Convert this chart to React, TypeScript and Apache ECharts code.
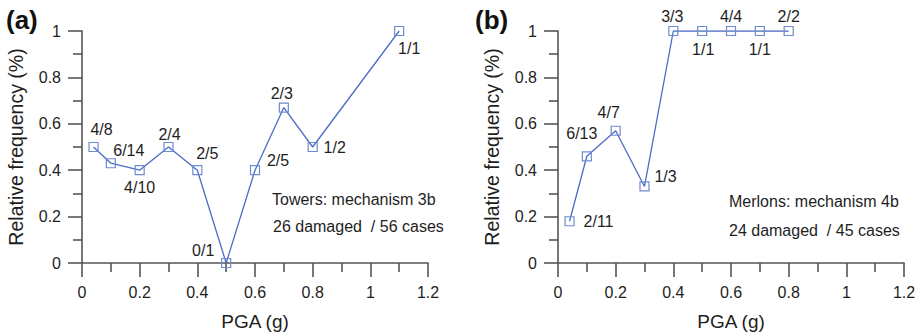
import React, { useEffect, useRef } from "react";
import * as echarts from "echarts";

const pgaA = [0.04, 0.1, 0.2, 0.3, 0.4, 0.5, 0.6, 0.7, 0.8, 1.1];
const freqA = [0.5, 0.43, 0.4, 0.5, 0.4, 0, 0.4, 0.67, 0.5, 1];
const labelsA = ["4/8", "6/14", "4/10", "2/4", "2/5", "0/1", "2/5", "2/3", "1/2", "1/1"];

const pgaB = [0.04, 0.1, 0.2, 0.3, 0.4, 0.5, 0.6, 0.7, 0.8];
const freqB = [0.18, 0.46, 0.57, 0.33, 1, 1, 1, 1, 1];
const labelsB = ["2/11", "6/13", "4/7", "1/3", "3/3", "1/1", "4/4", "1/1", "2/2"];

const xTicks = [0, 0.2, 0.4, 0.6, 0.8, 1, 1.2];
const yTicks = [0, 0.2, 0.4, 0.6, 0.8, 1];

const panelTitles = ["(a)", "(b)"];
const notesA = ["Towers: mechanism 3b", "26 damaged  / 56 cases"];
const notesB = ["Merlons: mechanism 4b", "24 damaged  / 45 cases"];

const offA = [[8, -18], [18, -13], [0, 17], [1, -13], [10, -17], [-23, -13], [23, -10], [-2, -14], [22, 0], [10, 17]];
const offB = [[29, 0], [-5, -23], [-7, -18], [21, -10], [-1, -15], [1, 18], [0, -15], [0, 18], [0, -15]];

const FONT = "'Liberation Sans', Arial, sans-serif";
const TEXT = "#1e1e1e";
const AXIS = "#555555";
const LINE = "#4a6cc4";
const MARK = "#6d8bd3";

function fmt(v: number) {
  return String(+v.toFixed(1));
}

const lineSty = { color: AXIS, width: 1.6 };

function xAxis(gridIndex: number) {
  return {
    type: "value",
    gridIndex,
    min: xTicks[0],
    max: xTicks[xTicks.length - 1],
    interval: 0.2,
    name: "PGA (g)",
    nameLocation: "middle",
    nameGap: 49,
    nameTextStyle: { fontFamily: FONT, fontSize: 19, color: TEXT },
    axisLine: { show: true, onZero: false, lineStyle: lineSty },
    axisTick: { show: true, inside: false, length: 14, lineStyle: lineSty },
    minorTick: { show: true, splitNumber: 2, length: 9, lineStyle: lineSty },
    axisLabel: { show: true, fontFamily: FONT, fontSize: 16, color: TEXT, margin: 21, formatter: fmt },
    splitLine: { show: false },
  };
}

function yAxis(gridIndex: number) {
  return {
    type: "value",
    gridIndex,
    min: yTicks[0],
    max: yTicks[yTicks.length - 1],
    interval: 0.2,
    name: "Relative frequency (%)",
    nameLocation: "middle",
    nameGap: 56,
    nameTextStyle: { fontFamily: FONT, fontSize: 19.5, color: TEXT },
    axisLine: { show: true, onZero: false, lineStyle: lineSty },
    axisTick: { show: true, inside: false, length: 14, lineStyle: lineSty },
    minorTick: { show: true, splitNumber: 2, length: 9, lineStyle: lineSty },
    axisLabel: { show: true, fontFamily: FONT, fontSize: 16, color: TEXT, margin: 21, formatter: fmt },
    splitLine: { show: false },
  };
}

function series(idx: number, xs: number[], ys: number[], labels: string[], offs: number[][]) {
  return {
    type: "line",
    xAxisIndex: idx,
    yAxisIndex: idx,
    symbol: "rect",
    symbolSize: 9,
    lineStyle: { color: LINE, width: 1.3 },
    itemStyle: { color: "rgba(255,255,255,0)", borderColor: MARK, borderWidth: 1.2 },
    z: 3,
    data: xs.map((x, i) => ({
      value: [x, ys[i]],
      label: {
        show: true,
        formatter: labels[i],
        position: "inside",
        offset: offs[i],
        fontFamily: FONT,
        fontSize: 16,
        color: TEXT,
        align: "center",
        verticalAlign: "middle",
      },
    })),
  };
}

export default function App() {
  const ref = useRef<HTMLDivElement>(null);
  useEffect(() => {
    if (!ref.current) return;
    const chart = echarts.init(ref.current, undefined, { renderer: "svg" });
    const noteStyle = { fontFamily: FONT, fontSize: 16, fill: TEXT };
    chart.setOption({
      animation: false,
      backgroundColor: "#ffffff",
      grid: [
        { left: 82, right: 493, top: 31, bottom: 73, containLabel: false },
        { left: 558, right: 17, top: 31, bottom: 73, containLabel: false },
      ],
      xAxis: [xAxis(0), xAxis(1)],
      yAxis: [yAxis(0), yAxis(1)],
      series: [series(0, pgaA, freqA, labelsA, offA), series(1, pgaB, freqB, labelsB, offB)],
      graphic: [
        { type: "text", left: 6, top: 7, style: { text: panelTitles[0], fontFamily: FONT, fontSize: 26, fontWeight: "bold", fill: "#111" } },
        { type: "text", left: 475, top: 7, style: { text: panelTitles[1], fontFamily: FONT, fontSize: 26, fontWeight: "bold", fill: "#111" } },
        { type: "text", left: 272, top: 191, style: { text: notesA[0], ...noteStyle } },
        { type: "text", left: 273, top: 218, style: { text: notesA[1], ...noteStyle } },
        { type: "text", left: 729, top: 193, style: { text: notesB[0], ...noteStyle } },
        { type: "text", left: 729, top: 222, style: { text: notesB[1], ...noteStyle } },
      ],
    });
    return () => chart.dispose();
  }, []);
  return <div ref={ref} style={{ width: 921, height: 336, position: "absolute", left: 0, top: 0 }} />;
}
